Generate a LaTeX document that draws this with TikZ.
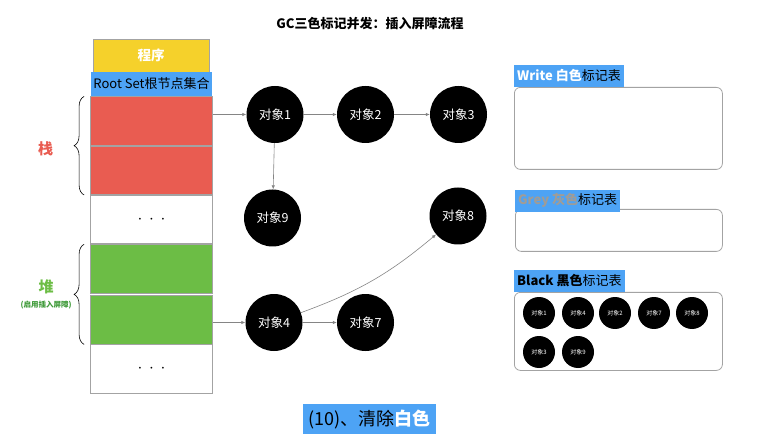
\documentclass[tikz,border=0pt]{standalone}
\usepackage{fontspec}
\setmainfont{Noto Sans CJK SC}
\usepackage{xcolor}
\usetikzlibrary{positioning, decorations.pathreplacing, arrows.meta}

\definecolor{progyellow}{HTML}{F5D12B}
\definecolor{tagblue}{HTML}{4DA3F5}
\definecolor{stackred}{HTML}{E95C51}
\definecolor{heapgreen}{HTML}{6CBD45}
\definecolor{darkgreen}{HTML}{3E9A38}
\definecolor{cellline}{HTML}{A3A3A3}
\definecolor{linkgray}{HTML}{858585}
\definecolor{greytext}{HTML}{A09C96}

\newcommand{\fs}[1]{\fontsize{#1}{#1}\selectfont}

\begin{document}
\begin{tikzpicture}[x=1pt, y=-1pt,
    cell/.style={draw=cellline, line width=0.8pt, minimum width=122pt, minimum height=48.5pt, inner sep=0pt},
    obj/.style={circle, fill=black, text=white, minimum size=57pt, inner sep=0pt, font=\fs{12.5}},
    mini/.style={circle, fill=black, text=white, minimum size=32pt, inner sep=0pt, font=\fs{6}},
    tabbox/.style={draw=cellline, line width=0.8pt, rounded corners=6pt, inner sep=0pt, anchor=north west},
    tag/.style={fill=tagblue, inner sep=3pt, minimum height=22pt, anchor=south west, font=\fs{13}},
    link/.style={draw=linkgray, line width=0.6pt, -{Latex[length=4pt, width=3.5pt]}},
    brace/.style={decorate, decoration={brace, amplitude=10pt}, line width=0.6pt}]

    \useasboundingbox (0,0) rectangle (770,443);

    \node[font=\fs{13}\bfseries] (title) at (370,24) {GC三色标记并发：插入屏障流程};

    % stack of the program
    \node[cell, fill=progyellow, minimum width=116pt, minimum height=33pt, text=white, font=\fs{13.5}\bfseries] (prog) at (151,55.5) {程序};
    \node[cell, draw=none, fill=tagblue, minimum width=121pt, minimum height=24pt, font=\fs{13}] (root) at (151.5,84) {Root Set根节点集合};
    \node[cell, fill=stackred, below=0pt of root] (s1) {};
    \node[cell, fill=stackred, below=0pt of s1] (s2) {};
    \node[cell, below=0pt of s2, font=\fs{16}] (s3) {$\cdot\,\cdot\,\cdot$};
    \node[cell, fill=heapgreen, below=0pt of s3] (h1) {};
    \node[cell, fill=heapgreen, below=1.5pt of h1] (h2) {};
    \node[cell, below=0pt of h2, font=\fs{16}] (h3) {$\cdot\,\cdot\,\cdot$};

    \draw[brace] ([xshift=-6pt]s2.south west) -- ([xshift=-6pt]s1.north west);
    \draw[brace] ([xshift=-6pt]h2.south west) -- ([xshift=-6pt]h1.north west);
    \node[text=stackred, font=\fs{15}\bfseries] (stk) at (45.5,149) {栈};
    \node[text=heapgreen, font=\fs{15}\bfseries] (heap) at (46,287) {堆};
    \node[text=darkgreen, font=\fs{7.5}\bfseries, below=0pt of heap] (barrier) {(启用插入屏障)};

    % objects
    \node[obj] (o1) at (275,114.5) {对象1};
    \node[obj] (o2) at (365.5,114.5) {对象2};
    \node[obj] (o3) at (458.5,114.5) {对象3};
    \node[obj] (o9) at (272.5,218) {对象9};
    \node[obj] (o8) at (458,216) {对象8};
    \node[obj] (o4) at (274,322.5) {对象4};
    \node[obj] (o7) at (365.5,322.5) {对象7};

    \draw[link] (s1.east |- o1) -- (o1);
    \draw[link] (h2.east |- o4) -- (o4);
    \draw[link] (o1) -- (o2);
    \draw[link] (o2) -- (o3);
    \draw[link] (o1) -- (o9);
    \draw[link] (o4) -- (o7);
    \draw[link] (o4) to[bend right=10] (o8);

    % colour tables
    \node[tabbox, minimum width=208pt, minimum height=82pt] (wtab) at (514,87) {};
    \node[tag] (wtag) at (wtab.north west) {\textcolor{white}{\bfseries Write 白色}标记表};
    \node[tabbox, minimum width=207pt, minimum height=42pt] (gtab) at (515,209) {};
    \node[tag] (gtag) at ([yshift=-3pt]gtab.north west) {\textcolor{greytext}{\bfseries Grey 灰色}标记表};
    \node[tabbox, minimum width=208pt, minimum height=78pt] (btab) at (514,292) {};
    \node[tag] (btag) at (btab.north west) {{\bfseries Black 黑色}标记表};

    \node[mini] (m1) at (539,313) {对象1};
    \node[mini] (m4) at (578,313) {对象4};
    \node[mini] (m2) at (615,313) {对象2};
    \node[mini] (m7) at (654,313) {对象7};
    \node[mini] (m8) at (692,313) {对象8};
    \node[mini] (m3) at (539,352) {对象3};
    \node[mini] (m9) at (578,352) {对象9};

    \node[fill=tagblue, minimum width=133pt, minimum height=30pt, inner sep=2pt, font=\fs{18}] (step10) at (369.5,419) {(10)、清除\textcolor{white}{\bfseries 白色}};
\end{tikzpicture}
\end{document}
